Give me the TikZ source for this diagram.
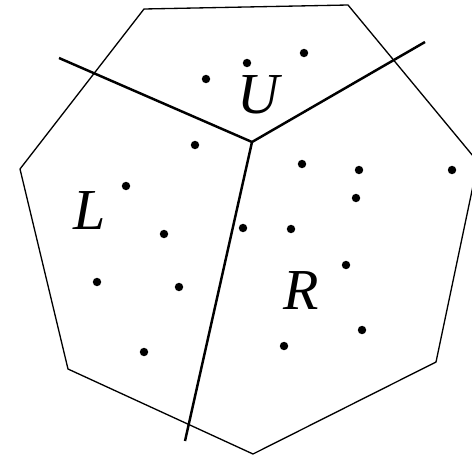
\documentclass[tikz,border=0pt]{standalone}
\usepackage{fontspec}
\setmainfont{Liberation Serif}
\usepackage{tikz}
\tikzset{
  hull/.style={line width=0.75pt,line join=miter},
  cell/.style={line width=1.4pt},
  site/.style={circle,fill=black,inner sep=0pt,minimum size=4.8pt},
  region/.style={inner sep=0pt,font=\fontsize{33}{36}\selectfont\itshape}
}

\begin{document}
\begin{tikzpicture}[x=0.02cm,y=-0.02cm]
  \useasboundingbox (0,0) rectangle (472,456);
  \clip (0,0) rectangle (472,456);
  % outer polygon
  \coordinate (h1) at (144,9);
  \coordinate (h2) at (348,5);
  \coordinate (h3) at (478,162);
  \coordinate (h4) at (436,362);
  \coordinate (h5) at (253,454);
  \coordinate (h6) at (68,369);
  \coordinate (h7) at (20,169);
  \draw[hull] (h1) -- (h2) -- (h3) -- (h4) -- (h5) -- (h6) -- (h7) -- cycle;
  % cell boundaries
  \coordinate (mid) at (252,142);
  \coordinate (endL) at (59,58);
  \coordinate (endR) at (425,42);
  \coordinate (endD) at (185,441);
  \draw[cell] (endL) -- (mid) -- (endR);
  \draw[cell] (mid) -- (endD);
  % sites
  \foreach \n/\x/\y in {
    1/206/79, 2/247/63, 3/304/53, 4/195/145, 5/126/186, 6/164/234,
    7/97/282, 8/179/287, 9/144/352, 10/243/228, 11/291/229, 12/302/164,
    13/359/170, 14/356/198, 15/452/170, 16/346/265, 17/362/330, 18/284/346} {
    \node[site] (s\n) at (\x,\y) {};
  }
  \node[region] (labU) at (258,95) {U};
  \node[region] (labL) at (90,211) {L};
  \node[region] (labR) at (301,291) {R};
\end{tikzpicture}
\end{document}
